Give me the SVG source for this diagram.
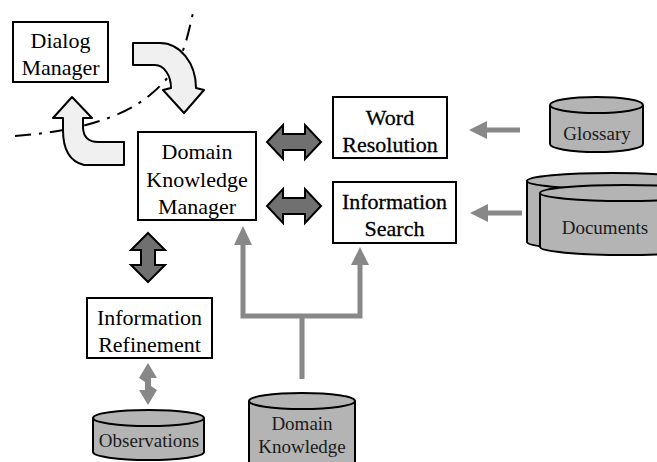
<svg xmlns="http://www.w3.org/2000/svg" width="657" height="462" viewBox="0 0 657 462">
<style>
.box{fill:#fff;stroke:#000;stroke-width:2}
.lbl{font-family:"Liberation Serif","Times New Roman",serif;font-size:22px;fill:#000;text-anchor:middle}
.bold{stroke:#000;stroke-width:0.3}
.cyl{fill:#b4b4b4;stroke:#000;stroke-width:2}
.clbl{font-family:"Liberation Serif","Times New Roman",serif;font-size:19px;fill:#1a1a1a;text-anchor:middle}
.dbl{fill:#707070;stroke:#000;stroke-width:2;stroke-linejoin:miter}
.curv{fill:#f0f0f0;stroke:#000;stroke-width:2;stroke-linejoin:round}
.gline{fill:none;stroke:#888;stroke-width:5}
.ghead{fill:#888}
</style>
<rect width="657" height="462" fill="#fff"/>

<g id="connectors">
  <path d="M15,136 C70,132 120,120 150,95 S185,50 194,8" fill="none" stroke="#000" stroke-width="2" stroke-dasharray="16,8,3,8"/>
  <path class="curv" d="M133,43 L160,43 A36,45 0 0 1 196,88 L204,90 L184,113 L163,90 L171,88 A16,23 0 0 0 155,65 L133,65 Z"/>
  <path class="curv" d="M72,97 L92,118 L83,118 L83,128 Q84,142 98,142 L124,142 L124,165 L84,165 Q63,160 63,130 L63,118 L53,118 Z"/>
  <polygon class="dbl" points="267,142 283,125 283,134 305,134 305,125 321,142 305,159 305,150 283,150 283,159"/>
  <polygon class="dbl" points="267,206 283,189 283,198 305,198 305,189 321,206 305,223 305,214 283,214 283,223"/>
  <polygon class="dbl" points="148,233 165,250 155,250 155,265 165,265 148,282 131,265 141,265 141,250 131,250"/>
  <polygon class="ghead" points="148,363 157,378 151,378 151,386 157,390 148,405 139,390 145,390 145,382 139,378"/>
  <line class="gline" x1="520" y1="130" x2="485" y2="130"/>
  <polygon class="ghead" points="469,130 487,121 487,139"/>
  <line class="gline" x1="522" y1="213" x2="487" y2="213"/>
  <polygon class="ghead" points="470,213 488,204 488,222"/>
  <path class="gline" d="M302,379 L302,316 M243,243 L243,316 L360,316 L360,262"/>
  <polygon class="ghead" points="243,226 252,245 234,245"/>
  <polygon class="ghead" points="360,247 369,265 351,265"/>
</g>

<g id="dialog-manager">
  <rect class="box" x="13" y="22" width="95" height="60"/>
  <text class="lbl" x="60.5" y="48">Dialog</text>
  <text class="lbl" x="60.5" y="75">Manager</text>
</g>

<g id="domain-knowledge-manager">
  <rect class="box" x="138" y="132" width="118" height="88"/>
  <text class="lbl" x="197" y="159">Domain</text>
  <text class="lbl" x="197" y="187">Knowledge</text>
  <text class="lbl" x="197" y="214">Manager</text>
</g>

<g id="word-resolution">
  <rect class="box" x="333" y="97" width="114" height="61"/>
  <text class="lbl bold" x="390" y="125">Word</text>
  <text class="lbl bold" x="390" y="152">Resolution</text>
</g>

<g id="information-search">
  <rect class="box" x="333" y="182" width="123" height="61"/>
  <text class="lbl bold" x="394.5" y="209">Information</text>
  <text class="lbl bold" x="394.5" y="236">Search</text>
</g>

<g id="information-refinement">
  <rect class="box" x="87" y="298" width="125" height="60"/>
  <text class="lbl" x="149.5" y="325">Information</text>
  <text class="lbl" x="149.5" y="352">Refinement</text>
</g>

<g id="glossary">
  <path class="cyl" d="M550,105 A46.5,8 0 0 1 643,105 L643,144 A46.5,8 0 0 1 550,144 Z"/>
  <path d="M550,105 A46.5,8 0 0 0 643,105" fill="none" stroke="#000" stroke-width="2"/>
  <text class="clbl" x="597" y="140">Glossary</text>
</g>

<g id="documents">
  <path class="cyl" d="M527,181 A85,8 0 0 1 697,181 L697,242 A85,8 0 0 1 527,242 Z"/>
  <path d="M527,181 A85,8 0 0 0 697,181" fill="none" stroke="#000" stroke-width="2"/>
  <path class="cyl" d="M540,193 A85,8 0 0 1 710,193 L710,247 A85,8 0 0 1 540,247 Z"/>
  <path d="M540,193 A85,8 0 0 0 710,193" fill="none" stroke="#000" stroke-width="2"/>
  <text class="clbl" x="605" y="234">Documents</text>
</g>

<g id="observations">
  <path class="cyl" d="M93,418 A55.5,8 0 0 1 204,418 L204,452 A55.5,8 0 0 1 93,452 Z"/>
  <path d="M93,418 A55.5,8 0 0 0 204,418" fill="none" stroke="#000" stroke-width="2"/>
  <text class="clbl" x="149" y="447">Observations</text>
</g>

<g id="domain-knowledge">
  <path class="cyl" d="M249,401 A53,8 0 0 1 355,401 L355,470 L249,470 Z"/>
  <path d="M249,401 A53,8 0 0 0 355,401" fill="none" stroke="#000" stroke-width="2"/>
  <text class="clbl" x="302" y="430">Domain</text>
  <text class="clbl" x="302" y="453">Knowledge</text>
</g>
</svg>
